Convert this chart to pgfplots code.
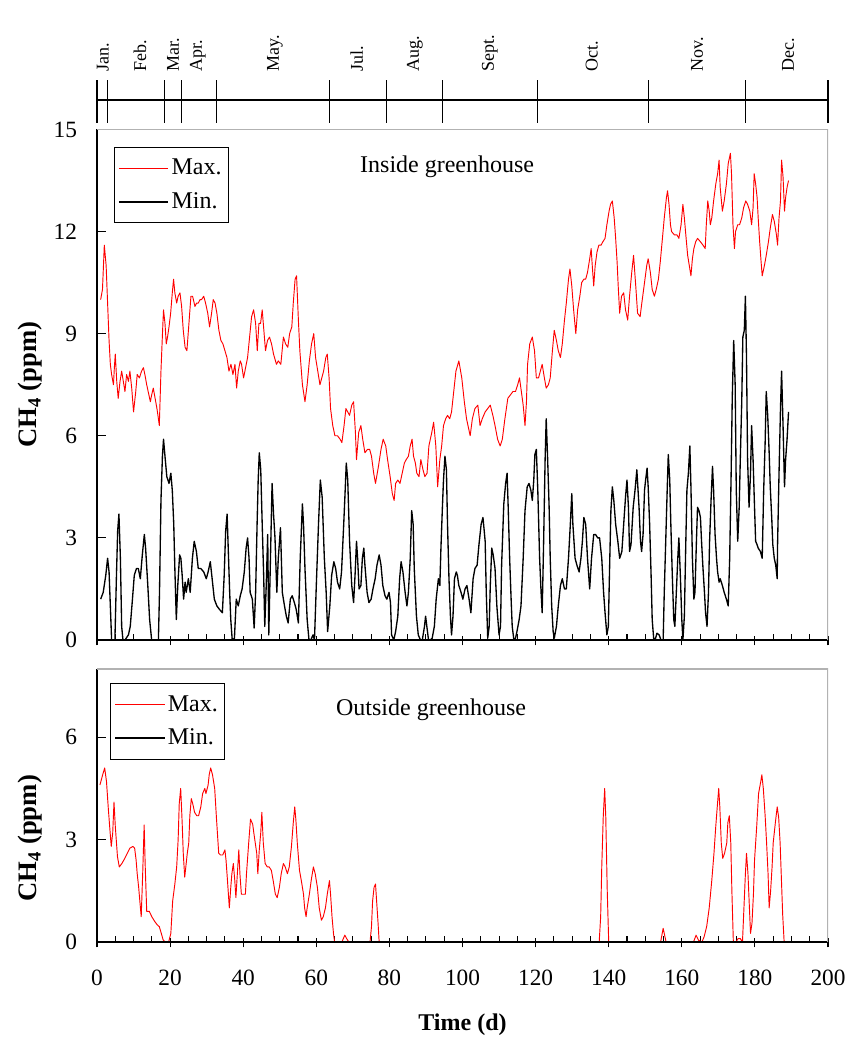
\documentclass[border=0pt]{standalone}
\usepackage{fontspec}
\setmainfont{Liberation Serif}
\usepackage{pgfplots}
\pgfplotsset{compat=1.18}
\begin{document}
\begin{tikzpicture}
\useasboundingbox (0,0) rectangle (650.25pt,789pt);
\pgfplotsset{
 panel/.style={
  anchor=south west, scale only axis, width=548.25pt,
  xmin=0, xmax=200, xtick={0,20,...,200}, minor x tick num=3,
  axis x line*=bottom, axis y line*=left,
  axis line style={line width=0.8pt},
  tick align=inside, major tick length=7pt, minor tick length=4.5pt,
  tick style={black, line width=0.8pt},
  major x tick style={yshift=-4pt},
  /pgf/number format/assume math mode=true,
  tick label style={font=\fontsize{17.5}{17.5}\selectfont},
  yticklabel style={xshift=-11.5pt},
  xticklabel style={yshift=-17.5pt},
  ylabel style={font=\bfseries\fontsize{20}{20}\selectfont, anchor=center},
  xlabel style={font=\bfseries\fontsize{18}{18}\selectfont, anchor=center},
  legend style={draw=black, line width=0.6pt, font=\fontsize{18}{18}\selectfont,
    anchor=north west, row sep=8pt, inner xsep=3pt, inner ysep=7pt},
  legend cell align=left,
  legend image code/.code={\path (0pt,0pt) -- (37pt,0pt); \draw[##1] (5pt,0pt) -- (33.5pt,0pt);},
  every axis plot/.append style={line join=round},
 },
 maxline/.style={red, line width=0.7pt},
 minline/.style={black, line width=1pt},
}

% month strip
\begin{axis}[at={(72.75pt,696.75pt)}, anchor=south west, scale only axis,
  width=548.25pt, height=32.25pt, xmin=0, xmax=200, ymin=0, ymax=1,
  hide axis, clip=false]
\addplot[ycomb, black, line width=0.8pt, mark=none] coordinates {
(0,1) (3,1) (18.5,1) (23,1) (32.6,1) (63.6,1) (79.2,1) (94.5,1) (120.5,1) (150.9,1) (177.4,1) (200,1)};
\addplot[black, line width=0.8pt] coordinates {(0,0.535) (200,0.535)};
\foreach \d/\m in {1.6/Jan., 11.8/Feb., 20.8/Mar., 27.6/Apr., 48.7/May., 71.1/Jul., 87.0/Aug., 107.5/Sept., 135.4/Oct., 164.2/Nov., 189.1/Dec.}{
  \edef\temp{\noexpand\node[rotate=90, anchor=west, inner sep=0pt, font=\noexpand\fontsize{13.5}{13.5}\noexpand\selectfont] at (axis cs:\d,1.186) {\m};}
  \temp
}
\end{axis}

% inside greenhouse
\begin{axis}[panel, at={(72.75pt,309pt)}, height=382.9pt,
  ymin=0, ymax=15, ytick={0,3,...,15}, xticklabels={},
  ylabel={CH\textsubscript{4} (ppm)},
  ylabel style={at={(axis description cs:-0.0917,0.5)}},
  legend style={at={(0.023,0.966)}}]
\addplot[maxline] coordinates {
(1.0,10.0) (1.5,10.3) (2.0,11.6) (2.5,11.0) (2.9,9.9) (3.3,8.8) (3.65,8.1) (4.0,7.8) (4.5,7.5) (4.75,8.0)
(5.0,8.4) (5.4,7.6) (5.8,7.1) (6.3,7.6) (6.75,7.9) (7.2,7.6) (7.65,7.3) (8.1,7.8) (8.6,7.6) (9.0,7.9)
(9.5,7.4) (10.0,6.7) (10.6,7.3) (11.0,7.8) (11.6,7.7) (12.2,7.9) (12.7,8.0) (13.1,7.8) (13.6,7.5) (14.0,7.3)
(14.6,7.0) (14.95,7.2) (15.4,7.4) (15.9,7.1) (16.4,6.8) (16.8,6.5) (17.05,6.3) (17.5,7.9) (17.95,9.1) (18.2,9.7)
(18.6,9.3) (18.95,8.7) (19.3,8.9) (19.7,9.2) (20.15,9.6) (20.6,10.2) (20.95,10.6) (21.3,10.2) (21.8,9.9) (22.2,10.1)
(22.7,10.2) (23.15,9.8) (23.6,9.1) (24.1,8.6) (24.6,8.5) (25.15,9.3) (25.7,10.1) (26.15,10.1) (26.8,9.8) (27.25,9.9)
(27.7,9.9) (28.2,10.0) (28.6,10.0) (29.2,10.1) (29.7,9.9) (30.3,9.6) (30.8,9.2) (31.35,9.6) (31.8,10.0) (32.3,9.9)
(32.8,9.6) (33.35,9.1) (33.9,8.8) (34.45,8.7) (35.0,8.5) (35.55,8.3) (36.1,7.9) (36.65,8.1) (37.2,7.8) (37.75,8.1)
(38.2,7.4) (38.65,7.9) (39.2,8.2) (39.55,8.1) (40.1,7.7) (40.65,8.0) (41.2,8.3) (41.75,8.9) (42.3,9.5) (42.85,9.7)
(43.4,9.3) (43.85,8.5) (44.3,9.3) (44.75,9.3) (45.2,9.7) (45.65,9.1) (46.1,8.5) (46.65,8.8) (47.2,8.9) (47.75,8.7)
(48.3,8.4) (49.1,8.1) (49.6,8.2) (50.3,8.1) (51.0,8.9) (51.6,8.7) (52.2,8.6) (52.7,9.0) (53.3,9.2) (53.7,9.9)
(54.2,10.6) (54.6,10.7) (55.1,9.4) (55.5,8.5) (56.2,7.5) (56.9,7.0) (57.5,7.5) (58.1,8.2) (58.7,8.7) (59.3,9.0)
(59.8,8.3) (60.4,7.9) (61.0,7.5) (61.5,7.7) (62.0,7.9) (62.6,8.3) (63.0,8.4) (63.5,7.7) (63.9,6.8) (64.5,6.3)
(65.1,6.0) (65.8,6.0) (66.5,5.9) (67.0,5.8) (67.6,6.3) (68.1,6.8) (68.6,6.7) (69.1,6.6) (69.7,6.9) (70.2,7.0)
(70.7,6.1) (71.0,5.3) (71.6,6.1) (72.2,6.3) (72.7,5.9) (73.3,5.5) (74.0,5.6) (74.6,5.6) (75.1,5.4) (75.7,4.9)
(76.2,4.6) (77.0,5.1) (77.7,5.6) (78.3,5.9) (79.0,5.7) (79.5,5.3) (80.2,4.8) (80.8,4.3) (81.3,4.1) (81.7,4.6)
(82.3,4.7) (82.9,4.6) (83.5,4.9) (84.1,5.2) (84.6,5.3) (85.2,5.4) (85.7,5.7) (86.2,5.9) (86.6,5.4) (87.1,5.2)
(87.5,4.9) (88.1,4.8) (88.6,5.3) (89.2,5.0) (89.7,4.8) (90.3,4.9) (90.8,5.7) (91.6,6.1) (92.1,6.4) (92.7,5.7)
(93.2,4.5) (93.8,5.3) (94.3,5.7) (94.8,6.3) (95.4,6.5) (95.9,6.6) (96.5,6.5) (97.0,6.7) (97.6,7.3) (98.2,7.9)
(99.0,8.2) (99.8,7.7) (100.5,7.0) (101.1,6.5) (102.1,6.0) (102.7,6.5) (103.4,6.8) (104.2,6.9) (104.8,6.3) (105.4,6.5)
(106.2,6.7) (106.9,6.8) (107.6,6.9) (108.3,6.6) (108.9,6.3) (109.6,5.9) (110.3,5.7) (110.9,5.9) (111.6,6.5) (112.4,7.1)
(113.1,7.2) (113.8,7.3) (114.5,7.3) (115.1,7.5) (115.6,7.7) (116.1,7.3) (116.6,6.9) (117.1,6.3) (117.5,7.0) (117.8,8.1)
(118.4,8.7) (119.1,8.9) (119.7,8.5) (120.2,7.7) (120.8,7.7) (121.3,7.9) (121.8,8.1) (122.4,7.7) (122.9,7.4) (123.5,7.5)
(124.0,7.7) (124.6,8.5) (125.1,9.1) (125.7,8.8) (126.2,8.5) (126.8,8.3) (127.3,8.7) (127.9,9.4) (128.4,9.9) (129.0,10.6)
(129.4,10.9) (129.9,10.4) (130.4,9.7) (131.0,9.0) (131.5,9.7) (132.1,10.1) (132.6,10.5) (133.2,10.6) (133.7,10.6) (134.2,10.8)
(134.8,11.2) (135.2,11.5) (135.5,11.0) (135.9,10.4) (136.3,11.0) (136.8,11.4) (137.3,11.6) (137.9,11.6) (138.4,11.7) (139.0,11.8)
(139.5,12.2) (140.1,12.6) (140.5,12.8) (141.0,12.9) (141.5,12.4) (141.9,11.8) (142.3,11.1) (142.6,10.4) (143.0,9.6) (143.5,10.1)
(144.1,10.2) (144.6,9.7) (145.2,9.4) (145.7,10.1) (146.3,10.8) (146.8,11.3) (147.4,10.4) (147.9,9.6) (148.6,9.5) (149.0,9.85)
(149.8,10.5) (150.4,11.0) (150.8,11.2) (151.4,10.8) (151.9,10.3) (152.5,10.1) (153.0,10.3) (153.6,10.6) (154.1,11.1) (154.7,11.8)
(155.2,12.4) (155.8,13.0) (156.1,13.2) (156.5,12.8) (156.9,12.2) (157.2,12.0) (158.0,11.9) (158.7,11.9) (159.2,11.8) (159.8,12.2)
(160.3,12.8) (160.7,12.4) (161.1,11.9) (161.6,11.3) (162.2,10.9) (162.5,10.7) (162.9,11.2) (163.3,11.5) (163.8,11.7) (164.3,11.8)
(165.1,11.7) (165.8,11.6) (166.4,11.5) (166.7,12.2) (167.1,12.9) (167.5,12.6) (167.8,12.2) (168.2,12.4) (168.7,12.9) (169.3,13.4)
(169.8,13.7) (170.2,14.1) (170.5,13.3) (171.1,12.6) (171.6,12.9) (172.2,13.4) (172.7,14.0) (173.3,14.3) (173.6,13.7) (174.0,12.2)
(174.4,11.5) (174.7,12.0) (175.3,12.2) (175.8,12.2) (176.4,12.4) (176.9,12.7) (177.5,12.9) (178.0,12.8) (178.6,12.6) (179.1,12.2)
(179.5,12.7) (179.8,13.7) (180.2,13.4) (180.6,13.0) (180.9,12.4) (181.3,11.7) (181.7,11.1) (182.0,10.7) (182.6,11.0) (183.1,11.3)
(183.7,11.7) (184.2,12.1) (184.8,12.5) (185.3,12.3) (185.9,11.9) (186.2,11.6) (186.6,12.4) (187.0,12.9) (187.3,14.1) (187.7,13.6)
(188.1,12.6) (188.4,13.0) (188.8,13.3) (189.2,13.5)};
\addlegendentry{Max.}
\addplot[minline] coordinates {
(1.0,1.2) (1.7,1.4) (2.4,1.9) (2.9,2.4) (3.3,2.0) (3.65,1.0) (4.0,0) (4.9,0) (5.3,1.8) (5.65,3.2)
(6.0,3.7) (6.4,2.4) (6.75,0.4) (7.1,0) (7.65,0) (8.6,0.15) (9.1,0.4) (9.7,1.2) (10.2,1.9) (10.8,2.1)
(11.3,2.1) (11.85,1.8) (12.4,2.5) (12.95,3.1) (13.3,2.7) (13.9,1.6) (14.4,0.6) (14.95,0) (16.8,0) (17.1,1.4)
(17.5,4.1) (17.9,5.4) (18.2,5.9) (18.6,5.4) (19.1,4.8) (19.7,4.6) (20.2,4.9) (20.6,4.4) (21.0,3.4) (21.3,2.1)
(21.7,0.6) (22.1,1.6) (22.6,2.5) (22.95,2.4) (23.3,1.9) (23.7,1.2) (24.1,1.7) (24.4,1.4) (25.0,1.8) (25.5,1.4)
(26.1,2.4) (26.6,2.9) (27.2,2.6) (27.7,2.1) (28.4,2.1) (29.2,2.0) (29.9,1.8) (30.4,2.0) (31.0,2.3) (31.5,1.8)
(32.1,1.2) (32.8,1.0) (33.5,0.9) (34.3,0.8) (34.8,1.9) (35.2,3.2) (35.6,3.7) (35.9,2.7) (36.3,1.4) (36.6,0.6)
(37.0,0) (37.6,0.05) (38.1,1.2) (38.65,1.0) (39.2,1.3) (39.7,1.5) (40.3,2.0) (40.8,2.7) (41.2,3.0) (41.6,2.4)
(41.9,1.4) (42.5,1.2) (43.0,0.35) (43.4,1.4) (43.8,3.4) (44.1,4.7) (44.4,5.5) (44.8,5.0) (45.2,3.4) (45.6,1.9)
(45.9,0.4) (46.3,1.6) (46.7,3.1) (47.0,0.15) (47.5,2.6) (47.9,4.6) (48.3,3.7) (48.7,3.0) (49.2,1.4) (49.6,2.4)
(50.2,3.3) (50.7,1.4) (51.3,1.0) (51.8,0.7) (52.3,0.5) (52.9,1.2) (53.4,1.3) (54.0,1.1) (54.5,0.9) (55.1,0.5)
(55.6,2.4) (56.2,4.0) (56.5,3.4) (56.9,2.1) (57.5,0.6) (58.0,0) (58.5,0) (59.1,0.15) (59.5,0) (60.0,1.6)
(60.6,3.4) (61.1,4.7) (61.6,4.2) (62.2,2.4) (62.7,1.4) (63.1,0.25) (63.7,1.0) (64.2,1.9) (64.8,2.3) (65.3,2.1)
(65.8,1.7) (66.4,1.5) (66.9,2.0) (67.5,3.4) (67.9,4.4) (68.2,5.2) (68.6,4.7) (69.1,2.9) (69.7,1.6) (70.2,1.1)
(70.6,1.9) (71.0,2.9) (71.3,2.4) (71.7,1.5) (72.2,1.6) (72.6,2.4) (73.0,2.7) (73.3,2.2) (73.9,1.4) (74.4,1.1)
(75.0,1.2) (75.5,1.5) (76.1,1.8) (76.6,2.2) (77.2,2.5) (77.7,2.2) (78.2,1.6) (78.8,1.3) (79.3,1.2) (79.9,1.4)
(80.3,1.1) (80.6,0.15) (81.2,0) (81.7,0.25) (82.3,0.7) (82.8,1.8) (83.2,2.3) (83.7,2.0) (84.3,1.4) (84.8,1.0)
(85.2,1.4) (85.7,2.4) (86.1,3.8) (86.5,3.4) (86.8,2.1) (87.4,0.7) (87.9,0.15) (88.5,0) (89.0,0) (89.6,0.4)
(89.9,0.7) (90.3,0.35) (90.7,0) (91.2,0) (91.7,0.05) (92.3,0.4) (92.8,1.2) (93.4,1.8) (93.8,1.6) (94.1,2.7)
(94.5,3.9) (94.8,4.7) (95.2,5.4) (95.6,5.0) (95.9,3.4) (96.3,1.8) (96.7,0.7) (97.0,0.15) (97.4,0.7) (97.8,1.8)
(98.3,2.0) (98.6,1.9) (99.0,1.6) (99.6,1.4) (100.1,1.2) (100.7,1.5) (101.2,1.6) (101.8,1.2) (102.3,0.8) (102.9,1.8)
(103.4,2.1) (104.0,2.2) (104.5,2.8) (105.1,3.4) (105.6,3.6) (106.2,2.9) (106.5,1.4) (106.9,0.05) (107.3,0.4) (107.6,1.6)
(108.0,2.7) (108.4,2.5) (108.9,2.1) (109.4,1.0) (110.0,0.15) (110.4,0.4) (110.7,2.2) (111.3,4.0) (111.8,4.6) (112.2,4.9)
(112.5,3.9) (112.9,2.4) (113.3,1.2) (113.6,0.4) (114.0,0.05) (114.4,0) (114.9,0.25) (115.5,0.6) (116.0,1.0) (116.6,2.4)
(117.1,3.8) (117.7,4.5) (118.2,4.6) (118.7,4.4) (119.1,4.1) (119.5,4.7) (119.8,5.45) (120.2,5.6) (120.6,4.4) (121.1,2.4)
(121.5,1.4) (121.8,0.8) (122.2,2.9) (122.6,5.3) (122.9,6.5) (123.3,5.3) (123.7,3.9) (124.0,2.4) (124.4,1.0) (124.8,0.25)
(125.1,0.05) (125.7,0.4) (126.2,1.0) (126.8,1.6) (127.3,1.8) (127.9,1.5) (128.4,1.5) (129.0,2.4) (129.5,3.4) (129.9,4.3)
(130.2,3.4) (130.8,2.4) (131.3,2.2) (131.9,2.0) (132.4,2.4) (132.8,2.9) (133.2,3.6) (133.7,3.4) (134.2,2.4) (134.8,1.5)
(135.3,2.4) (135.9,3.1) (136.4,3.1) (137.0,3.0) (137.5,3.0) (138.1,2.4) (138.6,1.4) (139.0,0.8) (139.5,0.15) (139.9,0.4)
(140.3,2.4) (140.6,3.8) (141.0,4.5) (141.4,4.1) (141.9,3.4) (142.5,2.9) (143.0,2.4) (143.6,2.6) (144.1,3.4) (144.6,4.2)
(145.0,4.7) (145.4,3.9) (145.7,2.6) (146.1,2.8) (146.7,3.9) (147.2,4.4) (147.7,5.0) (148.3,3.9) (148.7,2.9) (149.0,2.6)
(149.4,3.1) (149.8,4.4) (150.1,4.7) (150.5,5.05) (150.8,4.5) (151.2,3.4) (151.6,1.9) (151.9,0.6) (152.3,0.05) (152.7,0)
(153.2,0.2) (153.8,0.15) (154.3,0) (154.9,0) (155.2,1.4) (155.6,2.9) (156.0,4.4) (156.3,5.45) (156.7,4.7) (157.0,3.4)
(157.4,1.9) (157.8,0.6) (158.1,0.4) (158.5,1.4) (158.9,2.4) (159.2,3.0) (159.6,1.9) (160.0,0.6) (160.3,0) (160.7,0.7)
(161.1,2.9) (161.4,4.4) (161.8,4.9) (162.2,5.7) (162.5,4.5) (162.9,2.4) (163.3,1.2) (163.6,1.4) (164.0,2.9) (164.3,3.9)
(164.7,3.8) (165.1,3.6) (165.4,2.9) (165.8,2.1) (166.2,1.4) (166.5,0.8) (166.9,0.4) (167.3,1.4) (167.6,2.9) (168.0,4.1)
(168.4,5.1) (168.7,4.4) (169.1,3.1) (169.5,2.4) (169.8,2.0) (170.2,1.7) (170.5,1.8) (171.1,1.6) (171.6,1.4) (172.2,1.2)
(172.7,1.0) (173.1,2.4) (173.5,4.9) (173.8,7.1) (174.2,8.8) (174.6,7.5) (174.9,4.4) (175.3,2.9) (175.7,3.9) (176.0,5.3)
(176.4,7.0) (176.7,8.9) (177.1,9.1) (177.4,10.1) (177.7,8.3) (178.0,5.3) (178.4,3.9) (178.8,4.9) (179.1,6.3) (179.5,5.3)
(179.9,3.9) (180.2,2.9) (180.6,2.8) (180.9,2.7) (181.5,2.6) (182.0,2.4) (182.4,4.4) (182.8,5.8) (183.1,7.3) (183.5,6.6)
(183.9,5.5) (184.2,4.5) (184.6,3.6) (184.9,2.8) (185.3,2.4) (185.7,2.2) (186.1,1.8) (186.2,2.8) (186.6,4.9) (187.0,6.8)
(187.3,7.9) (187.7,6.3) (188.1,4.5) (188.4,5.3) (188.8,5.9) (189.2,6.7)};
\addlegendentry{Min.}
\node[font=\fontsize{18}{18}\selectfont] at (rel axis cs:0.479,0.9265) {Inside greenhouse};
\draw[gray!60, line width=0.8pt] (rel axis cs:0,1) -- (rel axis cs:1,1) -- (rel axis cs:1,0);
\end{axis}

% outside greenhouse
\begin{axis}[panel, at={(72.75pt,82.5pt)}, height=204.75pt,
  ymin=0, ymax=8, ytick={0,3,6},
  ylabel={CH\textsubscript{4} (ppm)},
  ylabel style={at={(axis description cs:-0.0917,0.38)}},
  xlabel={Time (d)},
  xlabel style={at={(axis description cs:0.5,-0.304)}},
  legend style={at={(0.018,0.949)}}]
\addplot[maxline] coordinates {
(0.8,4.6) (1.55,4.9) (2.1,5.1) (2.6,4.7) (3.1,3.9) (3.6,3.2) (3.9,2.8) (4.3,3.2) (4.65,4.1) (5.0,3.4)
(5.6,2.5) (6.1,2.2) (6.8,2.3) (7.6,2.45) (8.3,2.6) (9.0,2.75) (9.8,2.8) (10.3,2.75) (10.7,2.4) (11.0,2.0)
(11.4,1.6) (11.8,1.1) (12.1,0.74) (12.5,2.0) (12.9,3.43) (13.2,2.2) (13.6,0.9) (14.3,0.9) (15.0,0.74) (15.8,0.6)
(16.5,0.5) (17.05,0.45) (17.6,0.25) (18.1,0.06) (18.7,0) (19.6,0) (20.2,0.25) (20.7,1.2) (21.3,1.7) (21.8,2.2)
(22.2,3.0) (22.5,4.05) (22.9,4.5) (23.3,3.5) (23.6,2.6) (24.0,1.9) (24.4,2.3) (24.7,2.6) (25.1,2.9) (25.4,3.7)
(25.8,4.2) (26.2,4.05) (26.7,3.8) (27.3,3.7) (27.8,3.7) (28.4,3.96) (28.9,4.35) (29.5,4.5) (29.8,4.35) (30.4,4.6)
(30.7,4.9) (31.1,5.1) (31.6,4.9) (32.2,4.5) (32.7,3.6) (33.3,2.6) (33.8,2.55) (34.4,2.55) (35.0,2.7) (35.3,2.4)
(35.7,1.8) (36.2,1.0) (36.6,1.6) (36.9,2.0) (37.3,2.3) (37.7,1.8) (38.0,1.3) (38.4,2.0) (38.8,2.7) (39.1,2.0)
(39.5,1.4) (40.0,1.4) (40.6,1.4) (40.9,2.0) (41.5,2.9) (42.0,3.6) (42.6,3.45) (42.9,3.2) (43.3,2.9) (43.7,2.6)
(44.0,2.0) (44.4,2.7) (44.8,3.2) (45.1,3.8) (45.5,2.9) (46.0,2.3) (46.6,2.2) (47.1,2.2) (47.7,2.1) (48.2,1.8)
(48.8,1.4) (49.3,1.3) (49.9,1.6) (50.4,2.0) (51.0,2.3) (51.5,2.2) (52.1,2.0) (52.6,2.2) (53.2,2.8) (53.7,3.5)
(54.1,3.96) (54.4,3.6) (54.8,2.9) (55.4,2.1) (55.9,1.8) (56.5,1.4) (56.8,1.0) (57.2,0.74) (57.5,1.0) (58.1,1.4)
(58.6,1.8) (59.2,2.2) (59.7,2.0) (60.3,1.6) (60.8,1.0) (61.4,0.64) (61.9,0.74) (62.5,1.0) (63.0,1.4) (63.6,1.8)
(63.9,1.4) (64.3,0.74) (64.7,0.25) (65.0,0) (67.0,0) (67.8,0.2) (68.3,0.1) (68.9,0) (74.7,0) (75.1,0.45)
(75.4,1.2) (75.8,1.6) (76.2,1.7) (76.5,1.2) (76.9,0.55) (77.2,0) (137.4,0) (137.8,0.74) (138.1,2.2) (138.5,3.65)
(138.9,4.5) (139.2,3.65) (139.6,1.5) (140.0,0) (154.2,0) (154.9,0.4) (155.7,0) (163.2,0) (163.9,0.2) (164.6,0.05)
(165.5,0) (166.1,0.15) (166.8,0.45) (167.5,1.0) (168.2,1.8) (168.8,2.6) (169.3,3.4) (169.7,3.96) (170.1,4.5) (170.4,3.96)
(170.8,2.9) (171.2,2.45) (171.7,2.6) (172.3,2.9) (172.6,3.5) (173.0,3.7) (173.4,2.9) (173.7,1.5) (174.1,0) (174.8,0)
(175.4,0.1) (176.0,0.1) (176.6,0) (177.0,1.0) (177.4,2.0) (177.7,2.6) (178.1,2.0) (178.5,1.0) (178.8,0.25) (179.2,0.55)
(179.6,1.4) (179.9,2.4) (180.5,3.4) (181.0,4.35) (181.6,4.7) (181.9,4.9) (182.3,4.5) (182.8,3.7) (183.2,2.9) (183.6,2.0)
(183.9,1.0) (184.3,1.5) (184.7,2.2) (185.0,2.9) (185.6,3.5) (186.1,3.96) (186.5,3.65) (186.9,2.9) (187.2,2.0) (187.6,0.8)
(188.0,0) (189.0,0)};
\addlegendentry{Max.}
\addplot[minline] coordinates {(1,0) (50,0) (100,0) (150,0) (189,0)};
\addlegendentry{Min.}
\node[font=\fontsize{18}{18}\selectfont] at (rel axis cs:0.457,0.85) {Outside greenhouse};
\draw[gray!60, line width=0.8pt] (rel axis cs:0,1) -- (rel axis cs:1,1) -- (rel axis cs:1,0);
\end{axis}
\end{tikzpicture}
\end{document}
